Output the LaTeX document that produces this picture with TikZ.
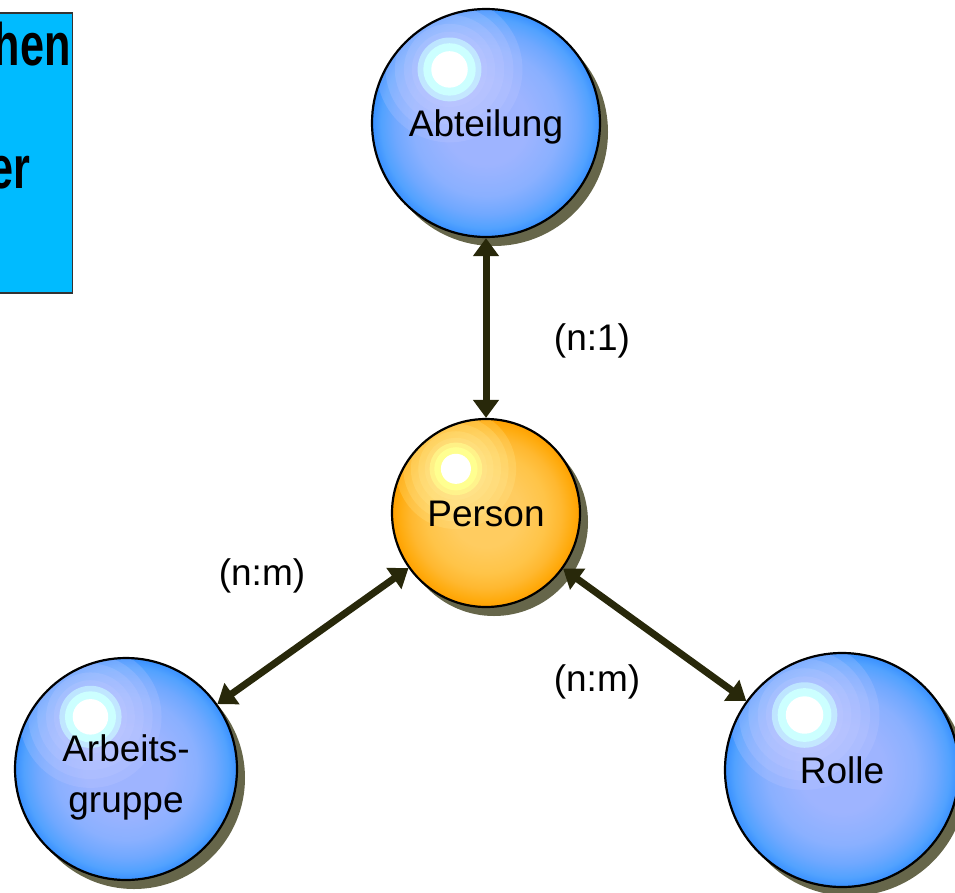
\documentclass[tikz,border=0pt]{standalone}
\usepackage{fontspec}
\setmainfont{Liberation Sans}
\usetikzlibrary{arrows.meta,shadows,calc}
\definecolor{boxcyan}{HTML}{00BBFF}
\definecolor{boxline}{HTML}{333333}
\definecolor{shadowcol}{HTML}{66664A}
\definecolor{arrowcol}{HTML}{28280A}
\definecolor{bA}{HTML}{9EB4FF}
\definecolor{bB}{HTML}{8AB0FF}
\definecolor{bC}{HTML}{70A8FF}
\definecolor{bD}{HTML}{52A2FF}
\definecolor{bE}{HTML}{3890FF}
\definecolor{bHalo}{HTML}{C4CCFF}
\definecolor{bRing}{HTML}{CCFFFF}
\definecolor{oA}{HTML}{FFCC60}
\definecolor{oB}{HTML}{FFC448}
\definecolor{oC}{HTML}{FFB830}
\definecolor{oD}{HTML}{FFAC10}
\definecolor{oE}{HTML}{FFA000}
\definecolor{oHalo}{HTML}{FFEE99}
\definecolor{oRing}{HTML}{FFFF90}
\pgfdeclareradialshading{bluebase}{\pgfpointorigin}{color(0bp)=(bA); color(9bp)=(bA); color(16bp)=(bB); color(20bp)=(bC); color(23bp)=(bD); color(25bp)=(bE); color(50bp)=(bE)}
\pgfdeclareradialshading{orangebase}{\pgfpointorigin}{color(0bp)=(oA); color(9bp)=(oA); color(16bp)=(oB); color(20bp)=(oC); color(23bp)=(oD); color(25bp)=(oE); color(50bp)=(oE)}
\newcommand\spherehl[3]{%
  \coordinate (hlc) at ($(path picture bounding box.center)+(-0.32*#1,-0.47*#1)$);
  \foreach \f in {0.64,0.56,0.48,0.40,0.33} {\fill[#2, opacity=0.22] (hlc) circle ({\f*#1});}
  \fill[#3, opacity=0.6] (hlc) circle ({0.28*#1});
  \fill[#3] (hlc) circle ({0.23*#1});
  \fill[white] (hlc) circle ({0.16*#1});}
\tikzset{
  sphere/.style={circle, inner sep=0pt, minimum size={2*#1}, draw=black, line width=2.2pt,
    font=\fontsize{37}{51}\selectfont, text height=27pt, text depth=0pt,
    drop shadow={shadow xshift=8pt, shadow yshift=-9pt, fill=shadowcol, opacity=1}},
  bluesphere/.style={sphere=#1, shade, shading=bluebase, path picture={\spherehl{#1}{bHalo}{bRing}}},
  orangesphere/.style={sphere=#1, shade, shading=orangebase, path picture={\spherehl{#1}{oHalo}{oRing}}},
  conn/.style={line width=7pt, draw=arrowcol, {Triangle[width=25pt,length=18pt]}-{Triangle[width=25pt,length=18pt]}},
  rel/.style={font=\fontsize{37}{44}\selectfont, inner sep=0pt},
  boxtext/.style={inner sep=0pt, anchor=base east, font=\fontsize{60}{60}\selectfont\bfseries},
}
\begin{document}
\begin{tikzpicture}[x=1pt, y=-1pt]
\useasboundingbox (0,0) rectangle (955,892);
\clip (0,0) rectangle (955,892);
% info box (cut off)
\node[draw=boxline, line width=1.5pt, fill=boxcyan, minimum width=110pt, minimum height=280pt,
      inner sep=0pt, anchor=north east] (box) at (73,12) {};
\node[boxtext] (t1) at (71,65) {\scalebox{0.72}[1]{hen}};
\node[boxtext] (t2) at (31,188) {\scalebox{0.72}[1]{er}};
% spheres
\node[bluesphere=114] (abt) at (486,123) {Abteilung};
\node[orangesphere=94] (per) at (486,513) {Person};
\node[bluesphere=111, align=center, text height=100pt, text depth=14pt] (arb) at (126,769) {Arbeits-\\gruppe};
\node[bluesphere=117] (rol) at (842,770) {Rolle};
% connectors
\draw[conn] (abt) -- (per);
\draw[conn] (per) -- (arb);
\draw[conn] (per) -- (rol);
% labels
\node[rel] (l1) at (592,341) {(n:1)};
\node[rel] (l2) at (262,576) {(n:m)};
\node[rel] (l3) at (597,682) {(n:m)};
\end{tikzpicture}
\end{document}
